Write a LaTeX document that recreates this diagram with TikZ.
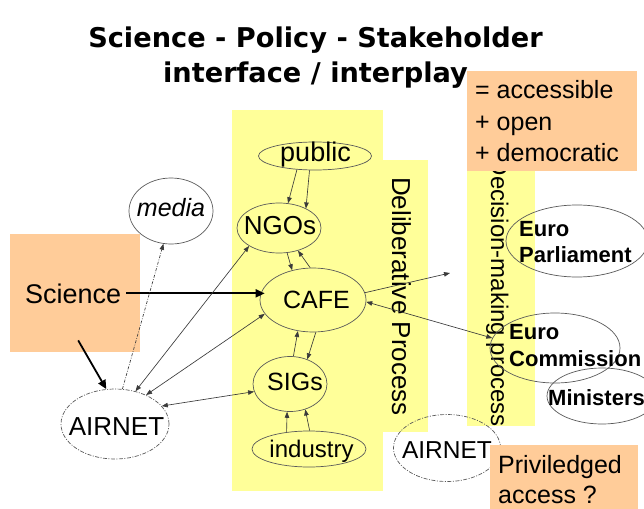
\documentclass[tikz,border=0pt]{standalone}
\usepackage{fontspec}
\setmainfont{Liberation Sans}
\newfontfamily\titlefont{DejaVu Sans}
\usetikzlibrary{shapes.geometric,arrows.meta,calc}

\definecolor{paleyellow}{HTML}{FFFF99}
\definecolor{peach}{HTML}{FFCC99}
\definecolor{rimgray}{HTML}{5A5A5A}
\definecolor{linkgray}{HTML}{3A3A3A}

\newcommand\setsz[1]{\fontsize{#1}{#1}\selectfont}

\tikzset{
  lbl/.style={inner sep=0pt, text=black, font=\setsz{#1}},
  lbl/.default=25,
  boldlbl/.style={inner sep=0pt, text=black, font=\setsz{22}\bfseries},
  titletext/.style={inner sep=0pt, text=black, font=\titlefont\bfseries\setsz{27.2}},
  bandtext/.style={inner sep=0pt, text=black, rotate=-90, font=\setsz{#1}},
  bubble/.style={ellipse, draw=rimgray, line width=0.7pt, inner sep=0pt},
  dashbubble/.style={bubble, dash pattern=on 4pt off 1.5pt on 1pt off 1.5pt},
  notebox/.style={rectangle, fill=peach, inner sep=0pt, anchor=north west},
  tip/.tip={Triangle[length=6pt,width=4.5pt]},
  link/.style={draw=linkgray, line width=0.65pt, -tip},
  twoway/.style={draw=linkgray, line width=0.65pt, tip-tip},
  mediaflow/.style={link, dash pattern=on 3pt off 1.5pt on 0.8pt off 1.5pt},
  strong/.style={draw=black, line width=1.8pt, -{Triangle[length=9pt,width=8pt]}}
}

\begin{document}
\begin{tikzpicture}[x=1pt,y=-1pt]
\clip (0,0) rectangle (644,508);
\fill[white] (0,0) rectangle (644,508);

% heading
\node[titletext, anchor=base] (title1) at (315.5,48) {Science - Policy - Stakeholder};
\node[titletext, anchor=base] (title2) at (315.5,83) {interface / interplay};

% deliberative band
\fill[paleyellow] (232,110) rectangle (383,491);
\fill[paleyellow] (383,160) rectangle (428,432);
\node[bandtext=26, anchor=base west] (delib) at (392,177) {Deliberative Process};

% decision-making band
\fill[paleyellow] (467,160) rectangle (535,426);
\node[bandtext=24, anchor=base east] (decide) at (491,427) {Decision-making process};

% quality note
\node[notebox, minimum width=170pt, minimum height=100pt] (quality) at (467,71) {};
\node[lbl, anchor=base west] (q1) at (475,98.5) {= accessible};
\node[lbl, anchor=base west] (q2) at (475,130) {+ open};
\node[lbl, anchor=base west] (q3) at (475,161.5) {+ democratic};

% science box
\node[notebox, minimum width=130pt, minimum height=118pt] (sci) at (10,234) {};
\node[lbl=27, anchor=base west] (scil) at (25,303) {Science};

% actors inside the deliberative process
\node[bubble, minimum width=113pt, minimum height=28pt] (public) at (315,156) {};
\node[lbl=27, anchor=base] (publicl) at (315.5,161) {public};
\node[bubble, minimum width=84pt, minimum height=50pt] (NGOs) at (279,228) {};
\node[lbl=26, anchor=base] (NGOsl) at (280,234) {NGOs};
\node[bubble, minimum width=106pt, minimum height=64pt] (CAFE) at (313,300) {};
\node[lbl=25, anchor=base] (CAFEl) at (316.5,308) {CAFE};
\node[bubble, minimum width=74pt, minimum height=55pt] (SIGs) at (290,384) {};
\node[lbl=25, anchor=base] (SIGsl) at (295,390.5) {SIGs};
\node[bubble, minimum width=114pt, minimum height=36pt] (industry) at (309,449) {};
\node[lbl=24, anchor=base] (industryl) at (311.5,457) {industry};

% outside actors
\node[bubble, minimum width=84pt, minimum height=66pt] (media) at (171,211) {};
\node[inner sep=0pt, font=\setsz{25}\itshape, anchor=base] (medial) at (171,216) {media};
\node[dashbubble, minimum width=108pt, minimum height=70pt] (air1) at (115,424) {};
\node[lbl=26, anchor=base] (air1l) at (116.5,435) {AIRNET};
\node[dashbubble, minimum width=107pt, minimum height=67pt] (air2) at (447,448) {};
\node[lbl=24.5, anchor=base] (air2l) at (447,458) {AIRNET};

% privileged access note
\node[notebox, minimum width=148pt, minimum height=80pt] (priv) at (490,445) {};
\node[lbl, anchor=base west] (priv1) at (498,473) {Priviledged};
\node[lbl, anchor=base west] (priv2) at (498,503) {access ?};

% European institutions
\node[bubble, minimum width=142pt, minimum height=72pt] (EP) at (577,241) {};
\node[boldlbl, anchor=base west] (EP1) at (519,236) {Euro};
\node[boldlbl, anchor=base west] (EP2) at (519,262) {Parliament};
\node[bubble, minimum width=130pt, minimum height=70pt] (EC) at (555,348) {};
\node[boldlbl, anchor=base west] (EC1) at (509,339) {Euro};
\node[boldlbl, anchor=base west] (EC2) at (509,366) {Commission};
\node[bubble, minimum width=110pt, minimum height=56pt] (Min) at (602,396) {};
\node[boldlbl, anchor=base west] (Minl) at (548,405) {Ministers};

\coordinate (policyout) at (450,273);

% science input
\draw[strong, shorten <=5pt, shorten >=-5pt] (scil.east) -- (scil.east -| CAFE.west);
\draw[strong] ($(sci.south)+(3,-12)$) -- (air1.104);

% AIRNET links
\draw[mediaflow] (air1.78) -- (media.257);
\draw[twoway] (air1.58) -- (NGOs.211);
\draw[twoway] (air1.43) -- (CAFE.196);
\draw[twoway] (air1.21) -- (SIGs.192);

% deliberation chain
\draw[link] (public.217) -- (NGOs.70);
\draw[link] (public.249) -- (NGOs.36);
\draw[link] (NGOs.288) -- (CAFE.125);
\draw[link] (CAFE.95) -- (NGOs.310);
\draw[link] (SIGs.83) -- (CAFE.244);
\draw[link] (CAFE.275) -- (SIGs.55);
\draw[link] (industry.143) -- (SIGs.264);
\draw[link] (industry.88) -- (SIGs.301);

% towards decision making
\draw[link] (CAFE.8) -- (policyout);
\draw[twoway] (EC.171) -- (CAFE.358);
\end{tikzpicture}
\end{document}
